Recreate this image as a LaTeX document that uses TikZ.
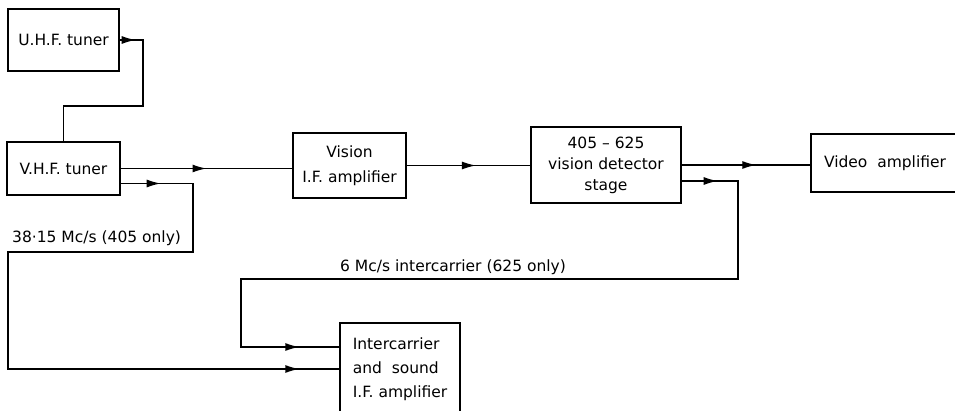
\documentclass[tikz,border=0pt]{standalone}
\usepackage{fontspec}
\setmainfont{DejaVu Sans}
\usetikzlibrary{arrows.meta,decorations.markings}
\begin{document}
\begin{tikzpicture}[x=1pt,y=-1pt,
  >={Latex[length=14pt,width=8pt]},
  txt/.style={font=\fontsize{15.5}{25}\selectfont},
  blk/.style={draw, line width=1.4pt, inner sep=0pt, align=center, txt},
  wire/.style={line width=1.4pt},
  arrowat/.style={postaction={decorate}, decoration={markings, mark=at position #1 with {\arrow{>}}}},
  arrowstwo/.style 2 args={postaction={decorate}, decoration={markings,
      mark=at position #1 with {\arrow{>}}, mark=at position #2 with {\arrow{>}}}}
]
\useasboundingbox (0,0) rectangle (955,411);

% blocks
\node[blk, minimum width=111, minimum height=62] (uhf) at (63.5,40) {U.H.F. tuner};
\node[blk, minimum width=113, minimum height=53] (vhf) at (63.5,168.5) {V.H.F. tuner};
\node[blk, minimum width=113, minimum height=65] (vif) at (349.5,165.5) {Vision\\I.F. amplifier};
\node[blk, minimum width=150, minimum height=76, font=\fontsize{15.5}{21}\selectfont] (det) at (606,165) {405 – 625\\vision detector\\stage};
\node[blk, minimum width=148, minimum height=58] (vid) at (885,163) {Video\ \ amplifier};
\node[blk, minimum width=120, minimum height=92, align=left, font=\fontsize{15.5}{24}\selectfont] (ic) at (400,369) {Intercarrier\\and\ \ sound\\I.F. amplifier};

% labels
\node[txt, anchor=west, inner sep=0pt] (l405) at (12,238) {38·15 Mc/s (405 only)};
\node[txt, anchor=west, inner sep=0pt] (l625) at (340,267) {6 Mc/s intercarrier (625 only)};

% bend points
\coordinate (u1) at (143,106);
\coordinate (v1) at (193,252);
\coordinate (v2) at (8,369);
\coordinate (d1) at (738,279);
\coordinate (d2) at (241,347);

% connectors
\draw[wire, arrowat=16pt] (uhf.east) -| (u1) -| (vhf.north);
\draw[wire, arrowat=0.5] (vhf.east) -- (vhf.east -| vif.west);
\draw[wire, arrowat=0.56] (vif.east) -- (vif.east -| det.west);
\draw[wire, arrowat=0.58] (det.east) -- (det.east -| vid.west);
\draw[wire, arrowstwo={40pt}{-40pt}] ([yshift=-15pt]vhf.east) -| (v1) -| (v2) -- (v2 -| ic.west);
\draw[wire, arrowstwo={36pt}{-40pt}] ([yshift=-16pt]det.east) -| (d1) -| (d2) -- (d2 -| ic.west);
\end{tikzpicture}
\end{document}
